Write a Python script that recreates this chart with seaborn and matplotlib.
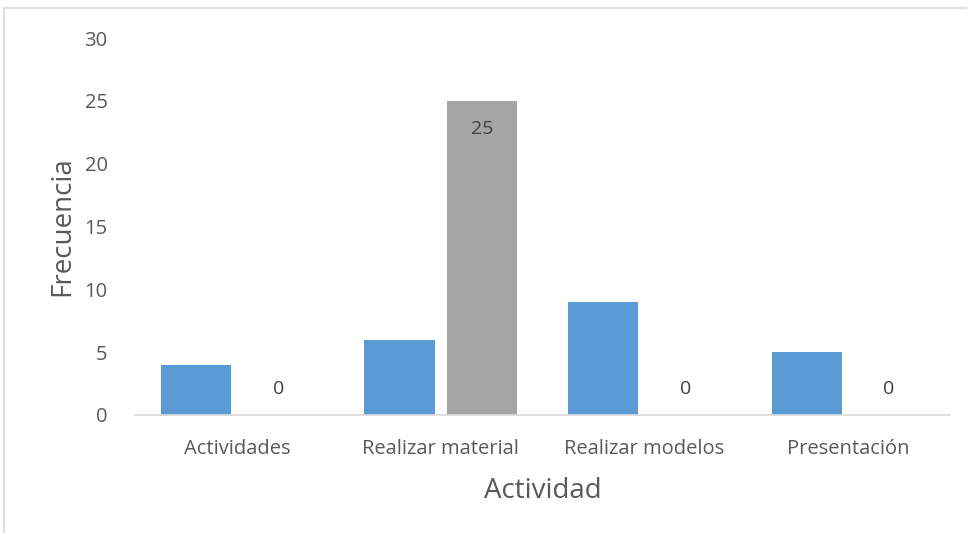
import numpy as np
import matplotlib
matplotlib.use("Agg")
import matplotlib.pyplot as plt
from matplotlib.lines import Line2D
import pandas as pd
import seaborn as sns

categorias = ["Actividades", "Realizar material", "Realizar modelos", "Presentación"]
serie1 = [4, 6, 9, 5]
serie2 = [0, 25, 0, 0]
series = ["Serie 1", "Serie 2"]
yticks = [0, 5, 10, 15, 20, 25, 30]

sns.set_theme(style="white")
plt.rcParams["font.family"] = ["Open Sans", "DejaVu Sans"]

df = pd.DataFrame({
    "Actividad": categorias * 2,
    "Frecuencia": serie1 + serie2,
    "Serie": [series[0]] * len(categorias) + [series[1]] * len(categorias),
})

fig = plt.figure(figsize=(9.67, 5.33), dpi=100)
ax = fig.add_axes([0.14, 0.2214, 0.842, 0.7073])

sns.barplot(data=df, x="Actividad", y="Frecuencia", hue="Serie",
            palette=["#5B9BD5", "#A5A5A5"], width=0.81, gap=0.15,
            legend=False, ax=ax, saturation=1, linewidth=0)

# etiquetas de datos solo para la serie gris
cont = ax.containers[1]
for rect, v in zip(cont, serie2):
    xc = rect.get_x() + rect.get_width() / 2
    off = -20 if v > 0 else 19
    ax.annotate(str(v), (xc, v), xytext=(0, off), textcoords="offset points",
                ha="center", va="center", fontsize=14, color="#404040")

ax.set_ylim(0, 30)
ax.set_yticks(yticks)
ax.set_xlim(-0.5, len(categorias) - 0.5)
ax.tick_params(axis="both", length=0, labelsize=14.5, labelcolor="#595959")
ax.tick_params(axis="y", pad=20)
ax.tick_params(axis="x", pad=17)
ax.set_xlabel("Actividad", fontsize=20, color="#595959", labelpad=13)
ax.set_ylabel("Frecuencia", fontsize=20, color="#595959", labelpad=6)
for s in ["top", "right", "left"]:
    ax.spines[s].set_visible(False)
ax.spines["bottom"].set_color("#D9D9D9")
ax.spines["bottom"].set_linewidth(1.2)

# marco del gráfico
fig.add_artist(Line2D([4 / 967, 1], [1 - 8 / 533, 1 - 8 / 533], color="#D9D9D9", lw=1.2))
fig.add_artist(Line2D([4 / 967, 4 / 967], [0, 1 - 8 / 533], color="#D9D9D9", lw=1.2))

fig.savefig("out.png", dpi=100)
